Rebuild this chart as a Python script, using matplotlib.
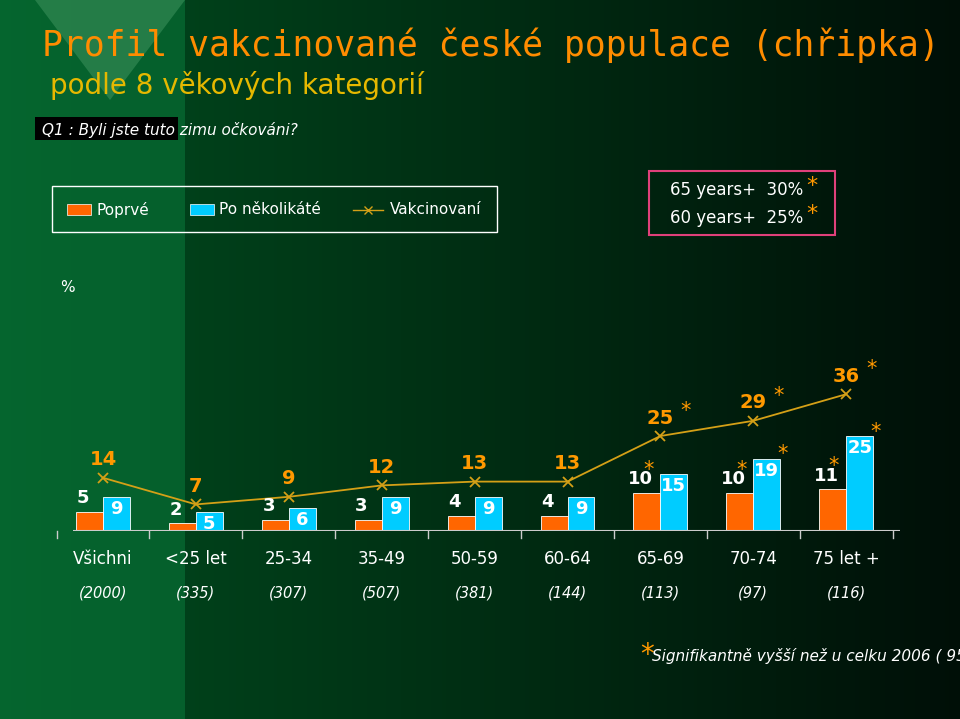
import numpy as np
import matplotlib.pyplot as plt
from matplotlib.patches import Rectangle, Polygon

categories = ["Všichni", "<25 let", "25-34", "35-49", "50-59", "60-64", "65-69", "70-74", "75 let +"]
counts = ["(2000)", "(335)", "(307)", "(507)", "(381)", "(144)", "(113)", "(97)", "(116)"]
poprve = [5, 2, 3, 3, 4, 4, 10, 10, 11]
opakovane = [9, 5, 6, 9, 9, 9, 15, 19, 25]
vakcinovani = [14, 7, 9, 12, 13, 13, 25, 29, 36]
star_poprve = [False] * 6 + [True, True, True]
star_opak = [False] * 7 + [True, True]
star_vakc = [False] * 6 + [True, True, True]

ORANGE = "#FF6600"
BLUE = "#00CCFF"
GOLD = "#D4A017"
LABEL = "#FF9900"
W, H = 960, 719

fig = plt.figure(figsize=(9.6, 7.19), dpi=100)
bg = fig.add_axes([0, 0, 1, 1])
bg.set_xlim(0, W)
bg.set_ylim(H, 0)
bg.axis("off")
# background gradient
grad = np.linspace(0, 1, 256)
r = 0.0 * grad
g = 0.30 * (1 - grad) + 0.06 * grad
b = 0.12 * (1 - grad) + 0.03 * grad
img = np.dstack([r, g, b]).repeat(2, axis=0)
bg.imshow(img, extent=[0, W, H, 0], aspect="auto")
bg.add_patch(Rectangle((0, 0), 185, H, color="#0a7a3c", alpha=0.55, lw=0))
bg.add_patch(Polygon([[35, 0], [185, 0], [110, 100]], closed=True, color="#3a8f5a", alpha=0.6, lw=0))
bg.add_patch(Rectangle((35, 117), 143, 23, color="black", lw=0))

bg.text(42, 45, "Profil vakcinované české populace (chřipka)", color="#FF8C00",
        fontsize=25, va="center", family="DejaVu Sans Mono")
bg.text(50, 85, "podle 8 věkových kategorií", color="#E6B800", fontsize=20, va="center")
bg.text(42, 130, "Q1 : Byli jste tuto zimu očkováni?", color="white", fontsize=11,
        va="center", style="italic")

# legend box
bg.add_patch(Rectangle((52, 186), 445, 46, fill=False, ec="white", lw=1))
bg.add_patch(Rectangle((67, 204), 24, 11, color=ORANGE, ec="white", lw=0.5))
bg.text(96, 210, "Poprvé", color="white", fontsize=11, va="center")
bg.add_patch(Rectangle((190, 204), 24, 11, color=BLUE, ec="white", lw=0.5))
bg.text(219, 210, "Po několikáté", color="white", fontsize=11, va="center")
bg.plot([353, 383], [210, 210], color=GOLD, lw=1)
bg.plot([368], [210], marker="x", color=GOLD, ms=6)
bg.text(390, 210, "Vakcinovaní", color="white", fontsize=11, va="center")

bg.add_patch(Rectangle((649, 171), 186, 64, fill=False, ec="#E0407A", lw=1.5))
bg.text(670, 190, "65 years+  30%", color="white", fontsize=12, va="center")
bg.text(670, 218, "60 years+  25%", color="white", fontsize=12, va="center")
bg.text(806, 186, "*", color=LABEL, fontsize=16, va="center")
bg.text(806, 214, "*", color=LABEL, fontsize=16, va="center")
bg.text(60, 288, "%", color="white", fontsize=11, va="center")

bg.text(640, 655, "*", color=LABEL, fontsize=20, va="center")
bg.text(652, 656, "Signifikantně vyšší než u celku 2006 ( 95%)", color="white",
        fontsize=11, va="center", style="italic")

# chart axes
px = 92.9
x0, x1 = (73 - 103) / px, (900 - 103) / px
base = 531
ppu = 3.8
ytop = 45
ax = fig.add_axes([73 / W, 1 - base / H, (900 - 73) / W, ytop * ppu / H])
ax.set_xlim(x0, x1)
ax.set_ylim(0, ytop)
ax.axis("off")
ax.patch.set_alpha(0)

x = np.arange(len(categories))
bw = 0.29
ax.bar(x - bw / 2, poprve, bw, color=ORANGE, ec="white", lw=0.6)
ax.bar(x + bw / 2, opakovane, bw, color=BLUE, ec="white", lw=0.6)
ax.plot(x, vakcinovani, color=GOLD, lw=1.3, marker="x", ms=7, mew=1.3)
ax.axhline(0, color="#cccccc", lw=1.5)
for b in np.arange(len(categories) + 1) - 0.5:
    ax.plot([b, b], [0, -1.8], color="#cccccc", lw=1, clip_on=False)

for i in x:
    ax.text(i - bw * 0.75, poprve[i] + 1.2, str(poprve[i]), color="white", fontsize=13,
            ha="center", va="bottom", fontweight="bold")
    if star_poprve[i]:
        ax.text(i - bw * 0.45, poprve[i] + 3.5, "*", color=LABEL, fontsize=15, ha="center", va="bottom")
    ax.text(i + bw / 2, opakovane[i] - 0.8, str(opakovane[i]), color="white", fontsize=13,
            ha="center", va="top", fontweight="bold")
    if star_opak[i]:
        ax.text(i + bw * 1.1, opakovane[i] - 1.5, "*", color=LABEL, fontsize=15, ha="center", va="bottom")
    ax.text(i, vakcinovani[i] + 2.2, str(vakcinovani[i]), color=LABEL, fontsize=14,
            ha="center", va="bottom", fontweight="bold")
    if star_vakc[i]:
        ax.text(i + 0.27, vakcinovani[i] + 4.0, "*", color=LABEL, fontsize=15, ha="center", va="bottom")

for i, (c, n) in enumerate(zip(categories, counts)):
    ax.text(i, -7.5, c, color="white", fontsize=12, ha="center", va="center")
    ax.text(i, -16.3, n, color="white", fontsize=10.5, ha="center", va="center", style="italic")

fig.savefig("out.png", dpi=100)
